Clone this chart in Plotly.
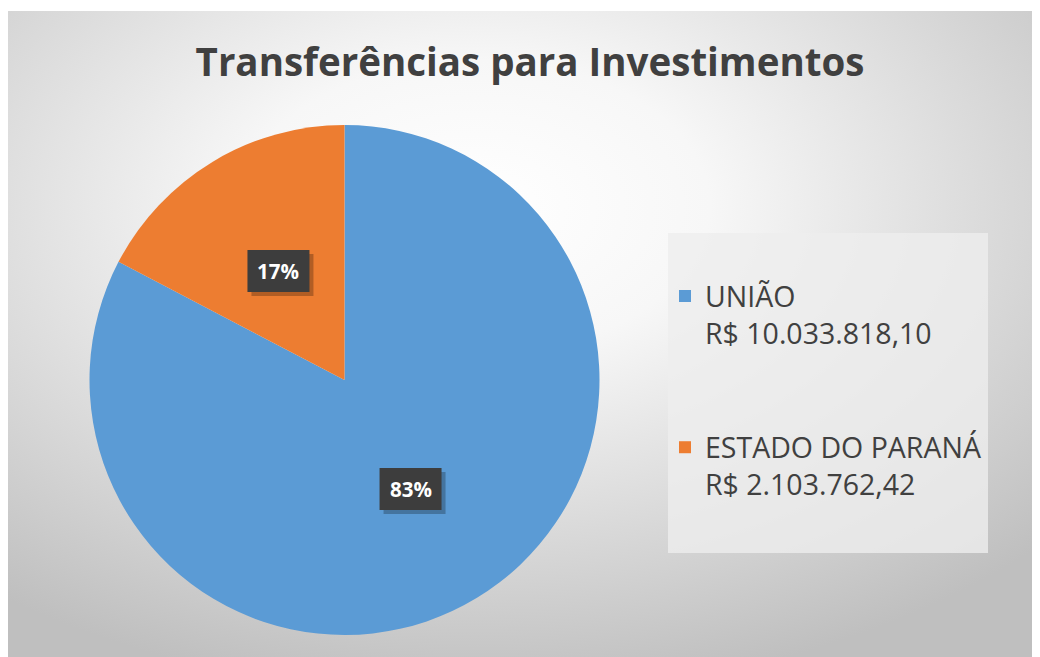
import math, base64
import plotly.graph_objects as go

# ---- data ----
categories = ["UNIÃO", "ESTADO DO PARANÁ"]
value_labels = ["R$ 10.033.818,10", "R$ 2.103.762,42"]
values = [10033818.10, 2103762.42]
colors = ["#5B9BD5", "#ED7D31"]
title_text = "Transferências para Investimentos"

W, H = 1040, 657
OFF = 8  # page body margin


def px(x):
    return (x - OFF) / W


def py(y):
    return 1 - (y - OFF) / H


# pie geometry (page pixels)
cx, cy, R = 344.5, 380, 255

fig = go.Figure()

fig.add_trace(go.Pie(
    labels=[f"{c}<br>{v}<br> <br> " for c, v in zip(categories, value_labels)],
    values=values,
    marker=dict(colors=colors, line=dict(width=0)),
    sort=False,
    direction="clockwise",
    rotation=0,
    textinfo="none",
    hoverinfo="percent",
    domain=dict(x=[px(cx - R), px(cx + R)], y=[py(cy + R), py(cy - R)]),
    showlegend=True,
))

# gradient background as an svg data uri
svg = f'''<svg xmlns="http://www.w3.org/2000/svg" width="{W}" height="{H}" viewBox="0 0 {W} {H}" preserveAspectRatio="none">
<defs><radialGradient id="g" cx="0.45" cy="0.3" r="0.75" gradientUnits="objectBoundingBox">
<stop offset="0" stop-color="#ffffff"/><stop offset="0.3" stop-color="#f7f7f7"/><stop offset="1" stop-color="#bfbfbf"/>
</radialGradient></defs>
<rect x="0" y="0" width="{W}" height="{H}" fill="url(#g)"/></svg>'''
uri = "data:image/svg+xml;base64," + base64.b64encode(svg.encode()).decode()

x0p, y0p = 8, 11
fig.add_layout_image(dict(source=uri, xref="paper", yref="paper",
                          x=px(x0p), y=py(y0p), sizex=1 - px(x0p), sizey=py(y0p),
                          xanchor="left", yanchor="top", sizing="stretch", layer="below"))

# legend box background
fig.add_shape(type="rect", xref="paper", yref="paper",
              x0=px(668), x1=px(988), y0=py(553), y1=py(233),
              fillcolor="rgba(238,238,238,0.8)", line=dict(width=0), layer="below")

# percentage labels positioned from the data
total = sum(values)
cum = 0
bw, bh = 62, 42
for v in values:
    mid = (cum + v / 2) / total * 2 * math.pi
    cum += v
    lx = cx + 0.5 * R * math.sin(mid)
    ly = cy - 0.5 * R * math.cos(mid)
    # shadow
    fig.add_shape(type="rect", xref="paper", yref="paper", layer="above",
                  x0=px(lx - bw / 2 + 4), x1=px(lx + bw / 2 + 4),
                  y0=py(ly + bh / 2 + 4), y1=py(ly - bh / 2 + 4),
                  fillcolor="rgba(0,0,0,0.25)", line=dict(width=0))
    fig.add_shape(type="rect", xref="paper", yref="paper", layer="above",
                  x0=px(lx - bw / 2), x1=px(lx + bw / 2),
                  y0=py(ly + bh / 2), y1=py(ly - bh / 2),
                  fillcolor="#3d3d3d", line=dict(width=0))
    fig.add_annotation(x=px(lx), y=py(ly), xref="paper", yref="paper",
                       xanchor="center", yanchor="middle",
                       text=f"<b>{round(v / total * 100)}%</b>", showarrow=False,
                       font=dict(family="Open Sans", size=20.5, color="white"))

fig.update_layout(
    width=W, height=H,
    margin=dict(l=0, r=0, t=0, b=0),
    paper_bgcolor="white",
    title=dict(text=f"<b>{title_text}</b>", x=px(530), xanchor="center", y=py(63), yanchor="middle",
               font=dict(family="Open Sans", size=38.5, color="#404040")),
    legend=dict(x=px(665), y=py(271), xanchor="left", yanchor="top", valign="top",
                font=dict(family="Open Sans", size=28.5, color="#404040"),
                bgcolor="rgba(0,0,0,0)", itemwidth=30),
)

fig.write_html("out.html")
